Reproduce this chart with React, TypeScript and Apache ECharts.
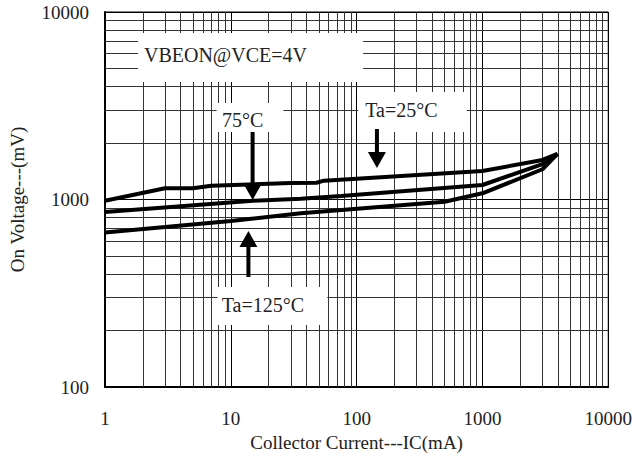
import React, { useEffect, useRef } from "react";
import * as echarts from "echarts";

// ---- Data (Ic in mA, V in mV) ----
const current25 = [1, 3, 5, 7, 30, 48, 55, 1000, 3000, 3950];
const voltage25 = [985, 1147, 1147, 1184, 1225, 1229, 1260, 1419, 1625, 1750];
const current75 = [1, 15, 36, 75, 1000, 3000, 3950];
const voltage75 = [858, 985, 1010, 1044, 1195, 1545, 1750];
const current125 = [1, 10, 36, 500, 1000, 3000, 3950];
const voltage125 = [667, 768, 844, 973, 1079, 1450, 1750];

// ---- Axis / grid structure ----
const xDecades = [1, 10, 100, 1000];
const yDecades = [100, 1000];
const minorSteps = [2, 3, 4, 5, 6, 7, 8, 9];

// ---- Annotations (data coordinates) ----
const noteTexts = ["VBEON@VCE=4V", "75°C", "Ta=25°C", "Ta=125°C"];
// box corners: [x1, yTop, x2, yBottom]
const noteBoxes = [
  [1.83, 7727, 112.6, 4236],
  [7.71, 3271, 26.2, 2291],
  [102.8, 3745, 750, 2291],
  [7.85, 341.5, 58.4, 214],
];
// text anchors: [x, y]
const noteAnchors = [
  [2.04, 5933],
  [12.4, 2655],
  [227, 3001],
  [18.0, 273.7],
];
const noteAlign = ["left", "center", "center", "center"];
// arrows: [tailX, tailY, tipX, tipY]
const arrows = [
  [14.9, 2291, 14.9, 994],
  [145, 2377, 145, 1472],
  [13.8, 386, 13.8, 679],
];

const FONT = "'Liberation Serif', 'Times New Roman', serif";

export default function App() {
  const ref = useRef<HTMLDivElement>(null);

  useEffect(() => {
    if (!ref.current) return;
    const chart = echarts.init(ref.current, null, { renderer: "svg" });

    const xMinor: number[] = [];
    xDecades.forEach((d) => minorSteps.forEach((m) => xMinor.push(d * m)));
    const yMinor: number[] = [];
    yDecades.forEach((d) => minorSteps.forEach((m) => yMinor.push(d * m)));

    const gridLines = [
      ...xMinor.map((v) => ({ xAxis: v })),
      ...yMinor.map((v) => ({ yAxis: v })),
    ];

    const pair = (xs: number[], ys: number[]) => xs.map((x, i) => [x, ys[i]]);

    const curveStyle = { color: "#000", width: 4 };

    chart.setOption({
      animation: false,
      backgroundColor: "#fff",
      grid: {
        left: 104,
        top: 12,
        width: 505,
        height: 375,
        show: true,
        borderColor: "#000",
        borderWidth: 1,
        backgroundColor: "transparent",
      },
      xAxis: {
        type: "log",
        logBase: 10,
        min: 1,
        max: 10000,
        name: "Collector Current---IC(mA)",
        nameLocation: "middle",
        nameGap: 44,
        nameTextStyle: { fontFamily: FONT, fontSize: 19, color: "#222" },
        axisLine: { show: true, lineStyle: { color: "#000", width: 2 } },
        axisTick: { show: false },
        axisLabel: {
          fontFamily: FONT,
          fontSize: 19,
          color: "#222",
          margin: 22,
          formatter: (v: number) => String(Math.round(v)),
        },
        splitLine: { show: true, lineStyle: { color: "#000", width: 1 } },
      },
      yAxis: {
        type: "log",
        logBase: 10,
        min: 100,
        max: 10000,
        name: "On Voltage---(mV)",
        nameLocation: "middle",
        nameGap: 78,
        nameTextStyle: { fontFamily: FONT, fontSize: 19, color: "#222" },
        axisLine: { show: true, lineStyle: { color: "#000", width: 2 } },
        axisTick: { show: false },
        axisLabel: {
          fontFamily: FONT,
          fontSize: 19,
          color: "#222",
          margin: 16,
          formatter: (v: number) => String(Math.round(v)),
        },
        splitLine: { show: true, lineStyle: { color: "#000", width: 1 } },
      },
      series: [
        {
          type: "line",
          data: [],
          silent: true,
          z: 1,
          markLine: {
            silent: true,
            z: 1,
            symbol: "none",
            label: { show: false },
            lineStyle: { color: "#333", width: 1, type: "solid" },
            emphasis: { disabled: true },
            data: gridLines,
          },
        },
        {
          type: "line",
          name: "25",
          data: pair(current25, voltage25),
          showSymbol: false,
          symbol: "none",
          lineStyle: curveStyle,
          z: 3,
          silent: true,
        },
        {
          type: "line",
          name: "75",
          data: pair(current75, voltage75),
          showSymbol: false,
          symbol: "none",
          lineStyle: curveStyle,
          z: 3,
          silent: true,
        },
        {
          type: "line",
          name: "125",
          data: pair(current125, voltage125),
          showSymbol: false,
          symbol: "none",
          lineStyle: curveStyle,
          z: 3,
          silent: true,
        },
      ],
    });

    const px = (x: number, y: number) =>
      chart.convertToPixel({ gridIndex: 0 }, [x, y]) as number[];

    const elements: any[] = [];
    noteBoxes.forEach((b, i) => {
      const p1 = px(b[0], b[1]);
      const p2 = px(b[2], b[3]);
      elements.push({
        type: "rect",
        z: 50,
        shape: { x: p1[0], y: p1[1], width: p2[0] - p1[0], height: p2[1] - p1[1] },
        style: { fill: "#fff" },
      });
      const a = px(noteAnchors[i][0], noteAnchors[i][1]);
      elements.push({
        type: "text",
        z: 51,
        x: a[0],
        y: a[1],
        style: {
          text: noteTexts[i],
          fontFamily: FONT,
          fontSize: 20,
          fill: "#222",
          align: noteAlign[i],
          verticalAlign: "middle",
        },
      });
    });

    arrows.forEach((ar) => {
      const t = px(ar[0], ar[1]);
      const h = px(ar[2], ar[3]);
      const dx = h[0] - t[0];
      const dy = h[1] - t[1];
      const len = Math.sqrt(dx * dx + dy * dy) || 1;
      const ux = dx / len;
      const uy = dy / len;
      const headLen = 16;
      const headHalf = 9;
      const bx = h[0] - ux * headLen;
      const by = h[1] - uy * headLen;
      elements.push({
        type: "line",
        z: 52,
        shape: { x1: t[0], y1: t[1], x2: bx + ux * 2, y2: by + uy * 2 },
        style: { stroke: "#000", lineWidth: 4 },
      });
      elements.push({
        type: "polygon",
        z: 52,
        shape: {
          points: [
            [h[0], h[1]],
            [bx - uy * headHalf, by + ux * headHalf],
            [bx + uy * headHalf, by - ux * headHalf],
          ],
        },
        style: { fill: "#000" },
      });
    });

    chart.setOption({ graphic: elements });

    return () => chart.dispose();
  }, []);

  return (
    <div
      ref={ref}
      style={{ position: "fixed", left: 0, top: 0, width: 635, height: 464, background: "#fff" }}
    />
  );
}
